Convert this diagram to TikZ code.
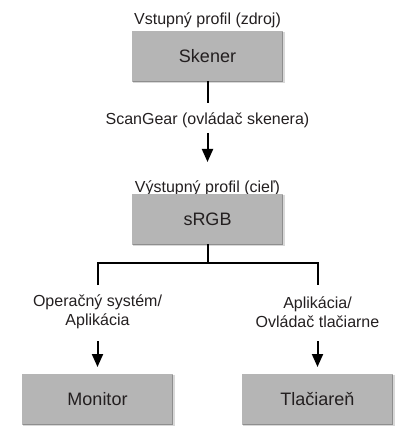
\documentclass[tikz,border=0pt]{standalone}
\usepackage{fontspec}
\setmainfont{Liberation Sans}
\usetikzlibrary{arrows.meta}
\definecolor{boxfill}{HTML}{B5B5B5}
\definecolor{boxedge}{HTML}{8E8E8E}
\definecolor{boxshade}{HTML}{D8D8D8}
\definecolor{txt}{HTML}{231F20}
\begin{document}
\begin{tikzpicture}[x=1pt,y=-1pt,
  devbox/.style={fill=boxfill,draw=boxfill,line width=0.6pt,minimum width=150pt,minimum height=50pt,inner sep=0pt,
    font=\fontsize{18}{20}\selectfont,text=txt},
  edge1/.style={draw=boxedge,line width=1.2pt},
  edge2/.style={draw=boxshade,line width=1.2pt},
  lbl/.style={font=\fontsize{16}{18.5}\selectfont,text=txt,inner sep=0pt,align=center},
  conn/.style={line width=2pt,draw=black},
  arr/.style={conn,-{Triangle[width=11pt,length=13pt]}}]
\useasboundingbox (0,0) rectangle (416,446);
\node[devbox] (skener) at (207.5,56) {Skener};
\node[lbl] (inlbl) at (207.5,20) {Vstupný profil (zdroj)};
\node[lbl] (scangear) at (207.5,120) {ScanGear (ovládač skenera)};
\coordinate (s1) at (207.5,103);
\coordinate (s2) at (207.5,133);
\coordinate (s3) at (207.5,162);
\node[lbl] (outlbl) at (207.5,188) {Výstupný profil (cieľ)};
\node[devbox] (srgb) at (207.5,219) {sRGB};
\coordinate (j) at (207.5,263);
\coordinate (jl) at (97.5,263);
\coordinate (jr) at (317.5,263);
\coordinate (jl2) at (97.5,285);
\coordinate (jr2) at (317.5,285);
\node[lbl] (oslbl) at (97.5,312) {Operačný systém/\\Aplikácia};
\node[lbl] (applbl) at (317.5,312) {Aplikácia/\\Ovládač tlačiarne};
\coordinate (al) at (97.5,341);
\coordinate (al2) at (97.5,367);
\coordinate (ar) at (317.5,341);
\coordinate (ar2) at (317.5,367);
\node[devbox] (monitor) at (97.5,399) {Monitor};
\node[devbox] (printer) at (317.5,399) {Tlačiareň};
\foreach \b in {skener,srgb,monitor,printer}{
  \draw[edge2] ([xshift=1.2pt,yshift=-1pt]\b.north east) -- ([xshift=1.2pt,yshift=-1.2pt]\b.south east) -- ([xshift=1pt,yshift=-1.2pt]\b.south west);
  \draw[edge1] ([xshift=0pt,yshift=-1pt]\b.north east) -- ([yshift=0pt]\b.south east) -- ([xshift=1pt]\b.south west);
}
\draw[conn] (skener.south) -- (s1);
\draw[arr] (s2) -- (s3);
\draw[conn] (srgb.south) -- (j);
\draw[conn] (jl2) -- (jl) -- (jr) -- (jr2);
\draw[arr] (al) -- (al2);
\draw[arr] (ar) -- (ar2);
\end{tikzpicture}
\end{document}
